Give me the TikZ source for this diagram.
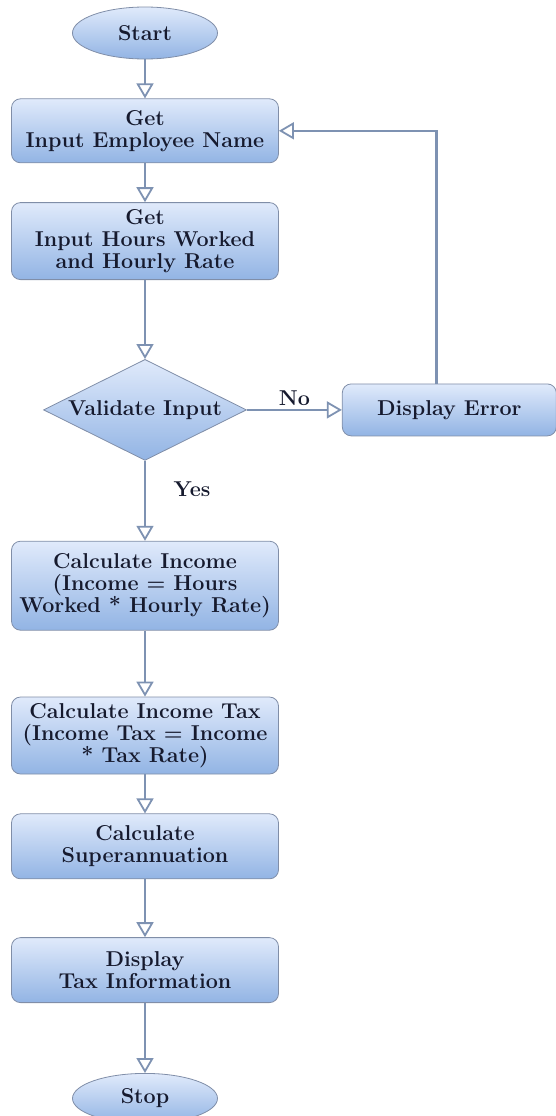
\documentclass[tikz,border=0pt]{standalone}
\usepackage{xcolor}
\usepackage{tikz}
\usetikzlibrary{arrows.meta,positioning,shapes.geometric}
\definecolor{BoxTop}{RGB}{224,234,251}
\definecolor{BoxBot}{RGB}{146,180,228}
\definecolor{BoxLine}{RGB}{128,142,168}
\definecolor{FlowLine}{RGB}{126,146,178}
\definecolor{TextInk}{RGB}{22,26,46}
\tikzset{
    procbox/.style={draw=BoxLine, line width=0.8pt, rounded corners=9pt, top color=BoxTop, bottom color=BoxBot, minimum width=267pt, inner sep=1pt, align=center, font=\bfseries\fontsize{21.5}{22}\selectfont, text=TextInk},
    termbox/.style={draw=BoxLine, line width=0.8pt, ellipse, top color=BoxTop, bottom color=BoxBot, minimum width=145pt, minimum height=52pt, inner sep=0pt, font=\bfseries\fontsize{21.5}{22}\selectfont, text=TextInk},
    decbox/.style={draw=BoxLine, line width=0.8pt, diamond, aspect=2, top color=BoxTop, bottom color=BoxBot, minimum width=203pt, minimum height=101pt, inner sep=0pt, font=\bfseries\fontsize{21.5}{22}\selectfont, text=TextInk},
    flowarr/.style={-{Triangle[open, length=15pt, width=17pt, line width=1.8pt]}, line width=2.4pt, draw=FlowLine},
    lbl/.style={font=\bfseries\fontsize{21.5}{22}\selectfont, text=TextInk},
}
\begin{document}
\begin{tikzpicture}
\useasboundingbox (0pt,0pt) rectangle (556pt,-1116pt);
\node[termbox] (start) at (145pt,-33pt) {Start};
\node[procbox, minimum height=64pt, below=39pt of start] (getname) {Get\\Input Employee Name};
\node[procbox, minimum height=77pt, below=39pt of getname] (gethours) {Get\\Input Hours Worked\\and Hourly Rate};
\node[decbox, below=79pt of gethours] (check) {Validate Input};
\node[procbox, minimum width=214pt, minimum height=52pt, right=95pt of check] (err) {Display Error};
\node[procbox, minimum height=89pt, below=80pt of check] (income) {Calculate Income\\(Income = Hours\\Worked * Hourly Rate)};
\node[procbox, minimum height=77pt, below=66pt of income] (tax) {Calculate Income Tax\\(Income Tax = Income\\* Tax Rate)};
\node[procbox, minimum height=65pt, below=39pt of tax] (super) {Calculate\\Superannuation};
\node[procbox, minimum height=65pt, below=58pt of super] (show) {Display\\Tax Information};
\node[termbox, minimum height=50pt, below=70pt of show] (stop) {Stop};

\draw[flowarr] (start) -- (getname);
\draw[flowarr] (getname) -- (gethours);
\draw[flowarr] (gethours) -- (check);
\draw[flowarr] (check) -- (err) node[midway, above, lbl] {No};
\draw[flowarr] ([xshift=-13pt]err.north) |- (getname.east);
\draw[flowarr] (check) -- (income) node[pos=0.35, right=24pt, lbl] {Yes};
\draw[flowarr] (income) -- (tax);
\draw[flowarr] (tax) -- (super);
\draw[flowarr] (super) -- (show);
\draw[flowarr] (show) -- (stop);
\end{tikzpicture}
\end{document}
